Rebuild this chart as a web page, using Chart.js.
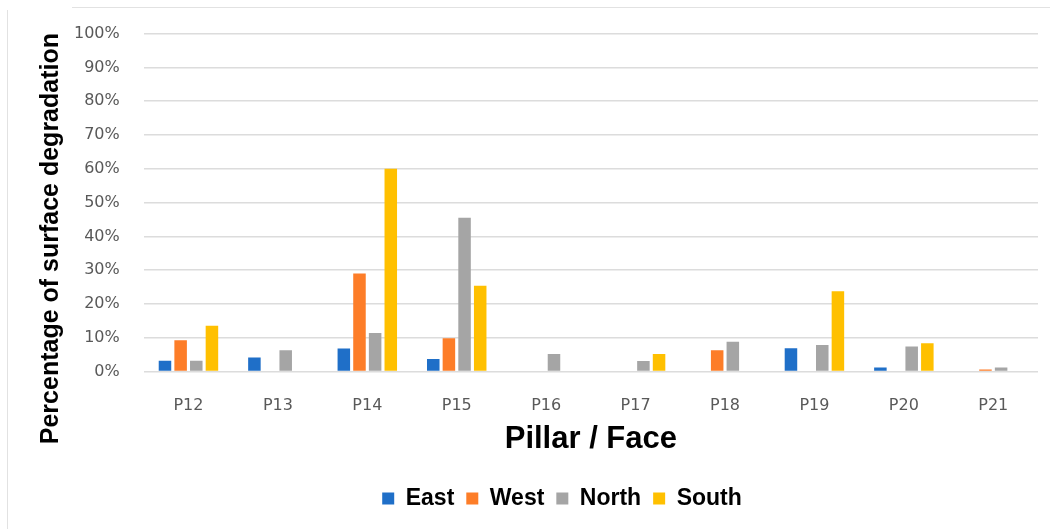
<!DOCTYPE html>
<html>
<head>
<meta charset="utf-8">
<script src="https://cdn.jsdelivr.net/npm/chart.js@4/dist/chart.umd.min.js"></script>
<style>
  html, body { margin: 0; padding: 0; background: #fff; }
  #wrap { position: relative; width: 1050px; height: 529px; }
  #frameTop { position: absolute; left: 72px; top: 7px; right: 0; height: 0; border-top: 1px solid #e2e2e2; }
  #frameLeft { position: absolute; left: 7px; top: 10px; bottom: 0; width: 0; border-left: 1px solid #e2e2e2; }
</style>
</head>
<body>
<div id="wrap">
  <canvas id="c" width="1050" height="529"></canvas>
  <div id="frameTop"></div>
  <div id="frameLeft"></div>
</div>
<script>
const categories = ["P12", "P13", "P14", "P15", "P16", "P17", "P18", "P19", "P20", "P21"];
const seriesNames = ["East", "West", "North", "South"];
const east  = [3.2, 4.2, 6.8, 3.7, 0, 0, 0, 6.9, 1.2, 0];
const west  = [9.3, 0, 29.0, 9.9, 0, 0, 6.3, 0, 0, 0.6];
const north = [3.2, 6.3, 11.4, 45.5, 5.2, 3.1, 8.8, 7.9, 7.4, 1.2];
const south = [13.6, 0, 60.0, 25.4, 0, 5.2, 0, 23.8, 8.4, 0];
const yTicks = [0, 10, 20, 30, 40, 50, 60, 70, 80, 90, 100];
const yTitle = 'Percentage of surface degradation';

const colors = ["#1f6fc8", "#fd7d28", "#a5a5a5", "#ffc000"];
const values = [east, west, north, south];

const legendShift = {
  id: 'legendShift',
  afterLayout(chart) {
    const lg = chart.legend;
    if (lg) { lg.left += 18; lg.right += 18; }
  }
};

// y-axis title, drawn rotated beside the axis (lower than centre, as in the source)
const yTitlePlugin = {
  id: 'yTitlePlugin',
  afterDraw(chart) {
    const ctx = chart.ctx;
    const area = chart.chartArea;
    ctx.save();
    ctx.translate(51, (area.top + area.bottom) / 2 + 36);
    ctx.rotate(-Math.PI / 2);
    ctx.font = 'bold 25px "Liberation Sans", Arial, sans-serif';
    ctx.fillStyle = '#000';
    ctx.textAlign = 'center';
    ctx.textBaseline = 'middle';
    ctx.fillText(yTitle, 0, 0);
    ctx.restore();
  }
};

new Chart(document.getElementById('c'), {
  type: 'bar',
  data: {
    labels: categories,
    datasets: seriesNames.map((n, i) => ({
      label: n,
      data: values[i],
      backgroundColor: colors[i],
      borderWidth: 0,
      categoryPercentage: 0.7,
      barPercentage: 0.8
    }))
  },
  options: {
    responsive: false,
    animation: false,
    layout: { padding: { left: 50, right: 12, top: 22, bottom: 9 } },
    plugins: {
      tooltip: { enabled: false },
      legend: {
        position: 'bottom',
        labels: {
          boxWidth: 12, boxHeight: 12, padding: 12,
          color: '#000',
          font: { family: 'Liberation Sans, Arial, sans-serif', size: 23, weight: 'bold' }
        }
      }
    },
    scales: {
      x: {
        grid: { display: false, drawTicks: false },
        border: { display: false },
        ticks: { color: '#595959', padding: 25, font: { family: 'DejaVu Sans, sans-serif', size: 16 } },
        title: {
          display: true, text: 'Pillar / Face', color: '#000',
          padding: { top: -20, bottom: 17 },
          font: { family: 'Liberation Sans, Arial, sans-serif', size: 31, weight: 'bold' }
        }
      },
      y: {
        min: 0, max: 100,
        afterBuildTicks(axis) { axis.ticks = yTicks.map(v => ({ value: v })); },
        grid: { color: '#dcdcdc', lineWidth: 1.5, drawTicks: false },
        border: { display: false },
        ticks: {
          color: '#595959', padding: 24,
          font: { family: 'DejaVu Sans, sans-serif', size: 16 },
          callback: v => v + '%'
        },
        title: { display: false }
      }
    }
  },
  plugins: [legendShift, yTitlePlugin]
});
</script>
</body>
</html>
